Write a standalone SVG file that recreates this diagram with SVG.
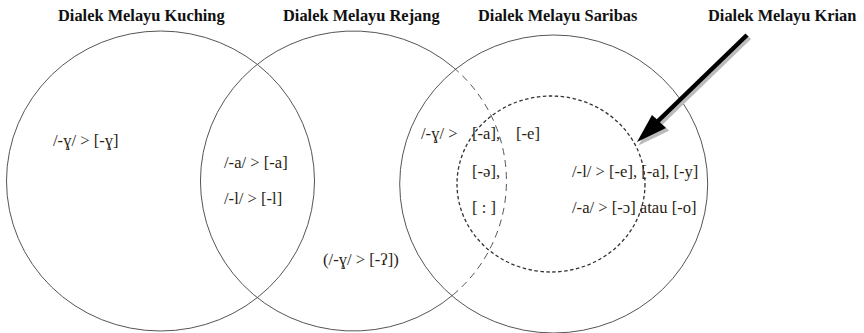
<svg xmlns="http://www.w3.org/2000/svg" width="864" height="333" viewBox="0 0 864 333">
<style>
.title{font-family:"Liberation Serif","Times New Roman",serif;font-weight:bold;font-size:16.4px;fill:#111}
.t{font-family:"Liberation Serif","Times New Roman",serif;font-size:16.6px;fill:#2a1e14}
.c{fill:none;stroke:#555;stroke-width:1}
.d{fill:none;stroke:#555;stroke-width:1;stroke-dasharray:7 5}
.k{fill:none;stroke:#333;stroke-width:1.3;stroke-dasharray:3.5 2.5}
</style>
<rect width="864" height="333" fill="#fff"/>
<g id="kuching">
<ellipse class="c" cx="160.5" cy="181" rx="154" ry="150"/>
<text class="title" x="58" y="21">Dialek Melayu Kuching</text>
<text class="t" x="53" y="146">/-ɣ/ &gt; [-ɣ]</text>
</g>
<g id="rejang">
<path class="c" d="M453.6,67.6 A153,150 0 1,0 453.6,294.4"/>
<path class="d" d="M453.6,67.6 A153,150 0 0,1 453.6,294.4"/>
<text class="title" x="283" y="21">Dialek Melayu Rejang</text>
<text class="t" x="224" y="168">/-a/ &gt; [-a]</text>
<text class="t" x="224" y="204">/-l/ &gt; [-l]</text>
<text class="t" x="323" y="265">(/-ɣ/ &gt; [-ʔ])</text>
</g>
<g id="saribas">
<ellipse class="c" cx="553.7" cy="184" rx="154" ry="149"/>
<text class="title" x="478" y="21">Dialek Melayu Saribas</text>
<text class="t" x="421" y="139">/-ɣ/ &gt;</text>
<text class="t" x="472" y="139">[-a],</text>
<text class="t" x="516" y="139">[-e]</text>
<text class="t" x="472" y="177">[-ə],</text>
<text class="t" x="472" y="213">[ : ]</text>
</g>
<g id="krian">
<ellipse class="k" cx="551" cy="184" rx="94" ry="88"/>
<text class="title" x="708" y="21">Dialek Melayu Krian</text>
<text class="t" x="572" y="177">/-l/ &gt; [-e], [-a], [-y]</text>
<text class="t" x="572" y="213">/-a/ &gt; [-ɔ] atau [-o]</text>
</g>
<g id="connectors">
<g transform="translate(2.5,2.5)" fill="#bbb" stroke="#bbb">
<line x1="747" y1="35" x2="657" y2="122" stroke-width="4.5"/>
<polygon points="637,142 652,115 666,128" stroke-width="1"/>
</g>
<line x1="747" y1="35" x2="657" y2="122" stroke="#000" stroke-width="4.5"/>
<polygon points="637,142 652,115 666,128" fill="#000"/>
</g>
</svg>
